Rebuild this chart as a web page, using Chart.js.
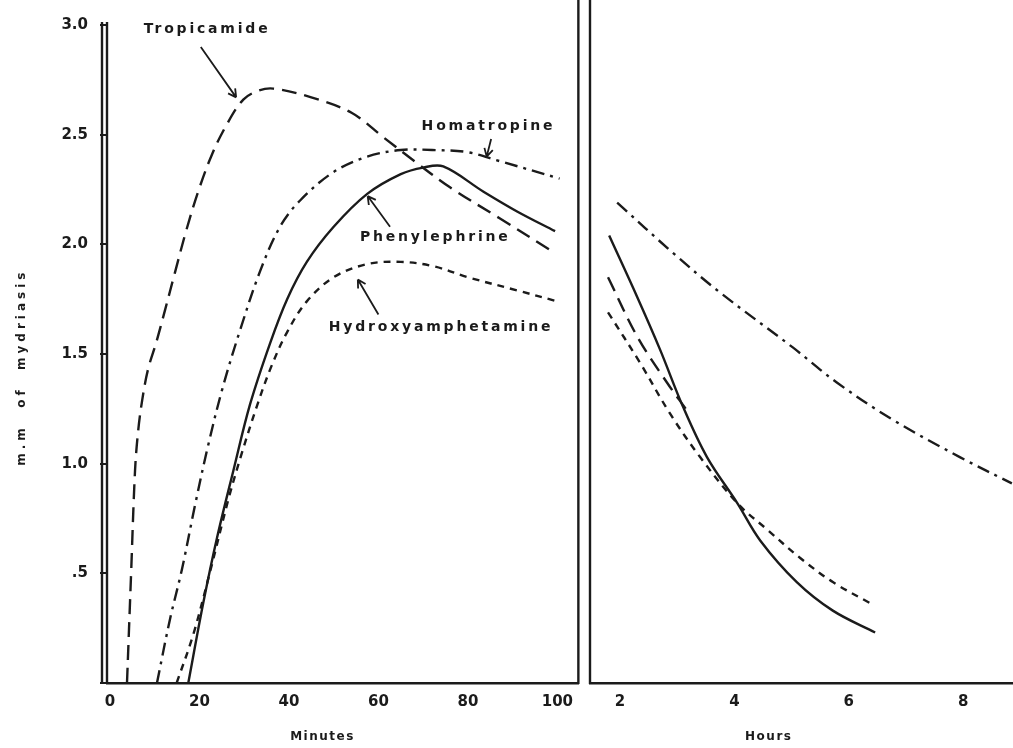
<!DOCTYPE html>
<html>
<head>
<meta charset="utf-8">
<title>Mydriasis</title>
<script src="https://cdn.jsdelivr.net/npm/chart.js@4.4.1/dist/chart.umd.min.js"></script>
<style>
  html, body { margin: 0; padding: 0; background: #fff; }
  #wrap { position: relative; width: 1013px; height: 748px; overflow: hidden; background: #fff; }
  canvas { position: absolute; top: 0; }
  #minutes { left: 0; }
  #hours { left: 580px; }
</style>
</head>
<body>
<div id="wrap">
  <canvas id="minutes" width="583" height="748"></canvas>
  <canvas id="hours" width="433" height="748"></canvas>
</div>
<script>
// ticks
const minuteTicks = [0, 20, 40, 60, 80, 100];
const hourTicks = [2, 4, 6, 8];
const yTicks = [0, 0.5, 1, 1.5, 2, 2.5, 3];
const yTickLabels = ['', '.5', '1.0', '1.5', '2.0', '2.5', '3.0'];

// left panel, x in minutes
const tropicamideMin = [[3.8,0],[4.7,0.49],[5.6,0.97],[6.3,1.15],[7.2,1.29],[8.5,1.43],[10.3,1.55],[12.3,1.70],[14.5,1.87],[17,2.06],[19.7,2.24],[22.8,2.41],[26.2,2.55],[29.8,2.66],[33.1,2.70],[36.5,2.71],[45,2.67],[54,2.60],[61,2.49],[68,2.38],[76,2.26],[87,2.12],[99.5,1.96]];
const homatropineMin = [[10.5,0],[13.4,0.29],[16.1,0.52],[19,0.81],[21.9,1.08],[25.1,1.34],[29.1,1.61],[33.6,1.88],[38,2.08],[42.5,2.20],[50,2.33],[57.5,2.40],[65,2.43],[72,2.43],[80,2.42],[87,2.38],[100.5,2.30]];
const phenylephrineMin = [[17.5,0],[20.8,0.36],[23.9,0.66],[27.6,0.97],[31.3,1.27],[35.8,1.55],[39.6,1.75],[44,1.92],[50,2.08],[57.5,2.23],[65,2.32],[70,2.35],[74.5,2.355],[83.5,2.24],[91,2.15],[99.5,2.06]];
const hydroxyMin = [[14.9,0],[18.6,0.22],[22.4,0.51],[26.5,0.84],[29.5,1.05],[32.8,1.26],[36,1.44],[39.6,1.60],[44,1.74],[50,1.85],[57.5,1.91],[65,1.92],[72.3,1.90],[80,1.85],[91,1.79],[100,1.74]];

// right panel, x in hours
const tropicamideHr = [[1.79,1.85],[2.3,1.58],[2.82,1.37],[3.15,1.25]];
const homatropineHr = [[1.95,2.19],[2.93,1.96],[3.75,1.78],[5.02,1.53],[5.79,1.37],[6.77,1.20],[7.94,1.03],[8.85,0.91]];
const phenylephrineHr = [[1.81,2.04],[2.3,1.76],[2.7,1.52],[3.1,1.26],[3.52,1.03],[4.05,0.82],[4.45,0.65],[5.09,0.46],[5.72,0.33],[6.46,0.23]];
const hydroxyHr = [[1.79,1.69],[2.35,1.46],[2.87,1.23],[3.4,1.03],[4.05,0.82],[4.57,0.70],[5.15,0.57],[5.72,0.46],[6.4,0.36]];

const ink = '#1b1b1b';
const face = 'DejaVu Sans';
const styles = {
  Tropicamide: [15, 8],
  Homatropine: [13, 6, 3, 6],
  Phenylephrine: [],
  Hydroxyamphetamine: [7, 6]
};

function ds(label, pts) {
  return {
    label: label,
    data: pts.map(p => ({x: p[0], y: p[1]})),
    borderColor: ink,
    borderWidth: 2.4,
    borderDash: styles[label],
    pointRadius: 0,
    fill: false,
    tension: 0.35
  };
}

// extra frame lines, labels with arrows, axis titles
const framePlugin = {
  id: 'frame',
  afterDraw(chart, args, opts) {
    const {ctx, chartArea: a} = chart;
    const sx = chart.scales.x, sy = chart.scales.y;
    ctx.save();
    ctx.strokeStyle = ink;
    ctx.lineWidth = 2.4;
    (opts.verticals || []).forEach(v => {
      const x = (v.side === 'left' ? a.left : a.right) + v.shift;
      ctx.beginPath();
      ctx.moveTo(x, v.full ? 0 : a.top - 3);
      ctx.lineTo(x, a.bottom + 1);
      ctx.stroke();
    });
    ctx.fillStyle = ink;
    ctx.textAlign = 'center';
    ctx.textBaseline = 'middle';
    ctx.font = 'bold 14px "' + face + '"';
    ctx.letterSpacing = '2.8px';
    (opts.notes || []).forEach(n => {
      ctx.fillText(n.text, sx.getPixelForValue(n.at[0]), sy.getPixelForValue(n.at[1]));
      const x0 = sx.getPixelForValue(n.from[0]), y0 = sy.getPixelForValue(n.from[1]);
      const x1 = sx.getPixelForValue(n.to[0]), y1 = sy.getPixelForValue(n.to[1]);
      ctx.lineWidth = 1.8;
      ctx.beginPath();
      ctx.moveTo(x0, y0);
      ctx.lineTo(x1, y1);
      const ang = Math.atan2(y1 - y0, x1 - x0);
      for (const d of [-0.5, 0.5]) {
        ctx.moveTo(x1, y1);
        ctx.lineTo(x1 - 9 * Math.cos(ang + d), y1 - 9 * Math.sin(ang + d));
      }
      ctx.stroke();
    });
    ctx.letterSpacing = '1.5px';
    ctx.font = 'bold 12px "' + face + '"';
    if (opts.xTitle) {
      ctx.fillText(opts.xTitle.text, sx.getPixelForValue(opts.xTitle.at), 737);
    }
    if (opts.yTitle) {
      ctx.letterSpacing = '4px';
      ctx.translate(22, sy.getPixelForValue(opts.yTitle.at));
      ctx.rotate(-Math.PI / 2);
      ctx.fillText(opts.yTitle.text, 0, 0);
    }
    ctx.restore();
  }
};

function xScale(min, max, ticks) {
  return {
    type: 'linear',
    min: min,
    max: max,
    afterBuildTicks: s => { s.ticks = ticks.map(v => ({value: v})); },
    afterFit: s => { s.height = 65; },
    grid: {display: false, drawTicks: false},
    border: {color: ink, width: 2.4},
    ticks: {color: ink, padding: 10, maxRotation: 0, font: {family: face, size: 15, weight: 'bold'}}
  };
}

const common = {
  responsive: false,
  animation: false,
  events: []
};

new Chart(document.getElementById('minutes'), {
  type: 'line',
  data: {
    datasets: [
      ds('Tropicamide', tropicamideMin),
      ds('Homatropine', homatropineMin),
      ds('Phenylephrine', phenylephrineMin),
      ds('Hydroxyamphetamine', hydroxyMin)
    ]
  },
  options: Object.assign({}, common, {
    layout: {padding: {top: 25, right: 0, left: 0, bottom: 0}},
    plugins: {
      legend: {display: false},
      tooltip: {enabled: false},
      frame: {
        verticals: [
          {side: 'left', shift: 0, full: false},
          {side: 'left', shift: -5, full: false},
          {side: 'right', shift: 0, full: true}
        ],
        notes: [
          {text: 'Tropicamide', at: [21.7, 2.98], from: [20.3, 2.90], to: [28.2, 2.67]},
          {text: 'Homatropine', at: [84.6, 2.54], from: [85.2, 2.48], to: [84.2, 2.40]},
          {text: 'Phenylephrine', at: [72.7, 2.03], from: [62.6, 2.08], to: [57.6, 2.22]},
          {text: 'Hydroxyamphetamine', at: [74, 1.62], from: [60, 1.68], to: [55.4, 1.84]}
        ],
        xTitle: {text: 'Minutes', at: 47.5},
        yTitle: {text: 'm.m  of  mydriasis', at: 1.44}
      }
    },
    scales: {
      x: xScale(-0.67, 104.7, minuteTicks),
      y: {
        type: 'linear',
        min: 0,
        max: 3,
        afterBuildTicks: s => { s.ticks = yTicks.map(v => ({value: v})); },
        afterFit: s => { s.width = 107; },
        grid: {drawOnChartArea: false, drawTicks: true, tickLength: 7, color: ink, lineWidth: 2},
        border: {display: false},
        ticks: {
          color: ink,
          padding: 12,
          font: {family: face, size: 15, weight: 'bold'},
          callback: (v, i) => yTickLabels[i]
        }
      }
    }
  }),
  plugins: [framePlugin]
});

new Chart(document.getElementById('hours'), {
  type: 'line',
  data: {
    datasets: [
      ds('Tropicamide', tropicamideHr),
      ds('Homatropine', homatropineHr),
      ds('Phenylephrine', phenylephrineHr),
      ds('Hydroxyamphetamine', hydroxyHr)
    ]
  },
  options: Object.assign({}, common, {
    layout: {padding: {top: 25, right: 0, left: 10, bottom: 0}},
    plugins: {
      legend: {display: false},
      tooltip: {enabled: false},
      frame: {
        verticals: [{side: 'left', shift: 0, full: true}],
        notes: [],
        xTitle: {text: 'Hours', at: 4.6}
      }
    },
    scales: {
      x: xScale(1.475, 8.87, hourTicks),
      y: {type: 'linear', min: 0, max: 3, display: false}
    }
  }),
  plugins: [framePlugin]
});
</script>
</body>
</html>
